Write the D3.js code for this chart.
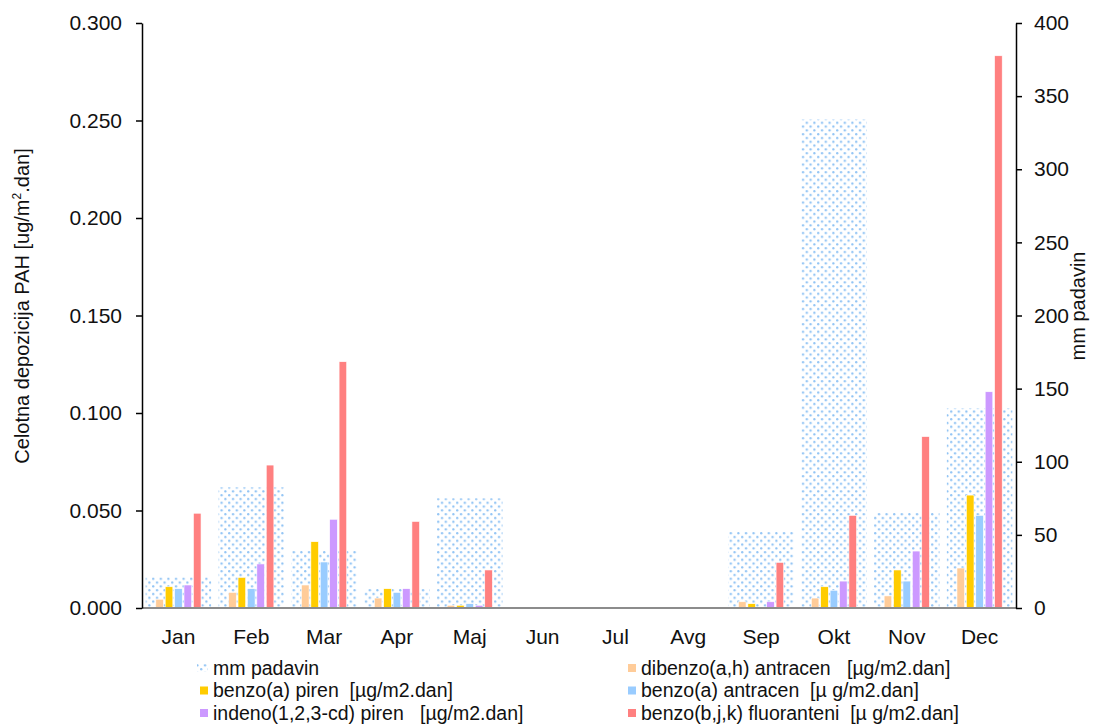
<!DOCTYPE html>
<html>
<head>
<meta charset="utf-8">
<script src="https://cdn.jsdelivr.net/npm/d3@7"></script>
<style>
  body { margin: 0; background: #fff; }
  svg { font-family: "Liberation Sans", Arial, sans-serif; }
  .leg text { white-space: pre; }
</style>
</head>
<body>
<svg id="chart" width="1112" height="724"></svg>
<script>
// data
const months = ["Jan", "Feb", "Mar", "Apr", "Maj", "Jun", "Jul", "Avg", "Sep", "Okt", "Nov", "Dec"];
const padavine = [21, 82.5, 39, 13, 75, 0, 0, 0, 52, 334, 65, 136.5];
const dibenzoAH = [0.0045, 0.0080, 0.0118, 0.0051, 0.0014, 0, 0, 0, 0.0032, 0.0051, 0.0062, 0.0205];
const benzoAPiren = [0.0109, 0.0157, 0.0340, 0.0099, 0.0014, 0, 0, 0, 0.0022, 0.0109, 0.0195, 0.0579];
const benzoAAntracen = [0.0099, 0.0099, 0.0236, 0.0080, 0.0022, 0, 0, 0, 0, 0.0091, 0.0138, 0.0475];
const indeno = [0.0118, 0.0226, 0.0455, 0.0099, 0.0014, 0, 0, 0, 0.0032, 0.0138, 0.0292, 0.1109];
const benzoBJK = [0.0486, 0.0733, 0.1263, 0.0444, 0.0195, 0, 0, 0, 0.0234, 0.0475, 0.0879, 0.2832];
const leftTicks = [0, 0.05, 0.1, 0.15, 0.2, 0.25, 0.3];
const rightTicks = [0, 50, 100, 150, 200, 250, 300, 350, 400];

const series = [
  {key: "dibenzo", name: "dibenzo(a,h) antracen   [µg/m2.dan]", color: "#FFCC99", values: dibenzoAH},
  {key: "bap", name: "benzo(a) piren  [µg/m2.dan]", color: "#FFCC00", values: benzoAPiren},
  {key: "baa", name: "benzo(a) antracen  [µ g/m2.dan]", color: "#99CCFF", values: benzoAAntracen},
  {key: "ind", name: "indeno(1,2,3-cd) piren   [µg/m2.dan]", color: "#CC99FF", values: indeno},
  {key: "bbjk", name: "benzo(b,j,k) fluoranteni  [µ g/m2.dan]", color: "#FF8080", values: benzoBJK}
];

const margin = {left: 142, right: 96, top: 23, bottom: 116};
const W = 1112, H = 724;
const svg = d3.select("#chart");

// dotted fill for the precipitation bars
const pat = svg.append("defs").append("pattern")
    .attr("id", "dots")
    .attr("patternUnits", "userSpaceOnUse")
    .attr("width", 7.6).attr("height", 7.6);
pat.append("circle").attr("cx", 1.2).attr("cy", 1.2).attr("r", 1.15).attr("fill", "#8ec2f4");
pat.append("circle").attr("cx", 5).attr("cy", 5).attr("r", 1.15).attr("fill", "#8ec2f4");

const x = d3.scaleBand()
    .domain(months)
    .range([margin.left, W - margin.right])
    .paddingInner(0.1)
    .paddingOuter(0.05);

const x1 = d3.scaleBand()
    .domain(series.map(d => d.key))
    .range([0, x.bandwidth()])
    .paddingInner(0.19)
    .paddingOuter(1.08);

const y = d3.scaleLinear().domain([0, 0.3]).range([H - margin.bottom, margin.top]);
const y2 = d3.scaleLinear().domain([0, 400]).range([H - margin.bottom, margin.top]);

// precipitation bars (behind)
svg.append("g")
  .selectAll("rect")
  .data(months.map((m, i) => ({m, v: padavine[i]})))
  .join("rect")
    .attr("x", d => x(d.m))
    .attr("y", d => y2(d.v))
    .attr("width", x.bandwidth())
    .attr("height", d => y2(0) - y2(d.v))
    .attr("fill", "url(#dots)");

// PAH bars
svg.append("g")
  .selectAll("g")
  .data(series)
  .join("g")
    .attr("fill", d => d.color)
  .selectAll("rect")
  .data(s => months.map((m, i) => ({m, key: s.key, v: s.values[i]})).filter(d => d.v > 0))
  .join("rect")
    .attr("x", d => x(d.m) + x1(d.key))
    .attr("y", d => y(d.v))
    .attr("width", x1.bandwidth())
    .attr("height", d => y(0) - y(d.v))
    .attr("stroke", "#fff")
    .attr("stroke-width", 0.6);

// x axis line
svg.append("line")
    .attr("x1", margin.left).attr("x2", W - margin.right)
    .attr("y1", y(0)).attr("y2", y(0))
    .attr("stroke", "#8c8c8c").attr("stroke-width", 2);

svg.append("g")
  .selectAll("text")
  .data(months)
  .join("text")
    .attr("x", d => x(d) + x.bandwidth() / 2)
    .attr("y", 644)
    .attr("text-anchor", "middle")
    .attr("font-size", 21)
    .attr("fill", "#111")
    .text(d => d);

// left axis
const yAxis = svg.append("g")
    .attr("transform", `translate(${margin.left},0)`)
    .call(d3.axisLeft(y).tickValues(leftTicks).tickFormat(d3.format(".3f")).tickSize(6).tickSizeOuter(0).tickPadding(14));
yAxis.select(".domain").attr("stroke", "#000").attr("stroke-width", 1.5);
yAxis.selectAll(".tick line").attr("stroke", "#000").attr("stroke-width", 1.5);
yAxis.selectAll(".tick text").attr("font-size", 21).attr("font-family", "Liberation Sans, Arial, sans-serif").attr("fill", "#111");

// right axis
const yAxis2 = svg.append("g")
    .attr("transform", `translate(${W - margin.right},0)`)
    .call(d3.axisRight(y2).tickValues(rightTicks).tickSize(6).tickSizeOuter(0).tickPadding(12));
yAxis2.select(".domain").attr("stroke", "#000").attr("stroke-width", 1.5);
yAxis2.selectAll(".tick line").attr("stroke", "#000").attr("stroke-width", 1.5);
yAxis2.selectAll(".tick text").attr("font-size", 21).attr("font-family", "Liberation Sans, Arial, sans-serif").attr("fill", "#111");

// axis titles
const lt = svg.append("text")
    .attr("transform", "translate(29,306) rotate(-90)")
    .attr("text-anchor", "middle")
    .attr("font-size", 20)
    .attr("fill", "#111");
lt.append("tspan").text("Celotna depozicija PAH [ug/m");
lt.append("tspan").attr("font-size", 12).attr("dy", -8).text("2");
lt.append("tspan").attr("dy", 8).text(".dan]");

svg.append("text")
    .attr("transform", "translate(1078,306) rotate(-90)")
    .attr("text-anchor", "middle")
    .attr("dy", "0.35em")
    .attr("font-size", 20)
    .attr("fill", "#111")
    .text("mm padavin");

// legend
const legendItems = [
  {name: "mm padavin", fill: "url(#dots)", col: 0, row: 0},
  {name: series[0].name, fill: series[0].color, col: 1, row: 0},
  {name: series[1].name, fill: series[1].color, col: 0, row: 1},
  {name: series[2].name, fill: series[2].color, col: 1, row: 1},
  {name: series[3].name, fill: series[3].color, col: 0, row: 2},
  {name: series[4].name, fill: series[4].color, col: 1, row: 2}
];
const colX = [200, 628];

const leg = svg.append("g").attr("class", "leg")
  .selectAll("g")
  .data(legendItems)
  .join("g")
    .attr("transform", d => `translate(${colX[d.col]},${668 + d.row * 22.5})`);
leg.append("rect")
    .attr("x", d => d.row === 0 && d.col === 0 ? -3 : 0)
    .attr("y", -4)
    .attr("width", d => d.row === 0 && d.col === 0 ? 11 : 8)
    .attr("height", 8)
    .attr("fill", d => d.fill);
leg.append("text")
    .attr("x", 13)
    .attr("dy", "0.35em")
    .attr("font-size", 19.5)
    .attr("fill", "#111")
    .text(d => d.name);
</script>
</body>
</html>
